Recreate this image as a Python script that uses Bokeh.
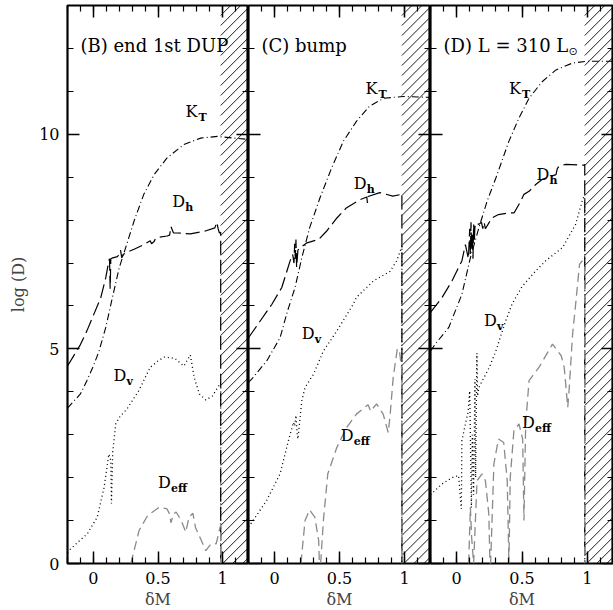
import numpy as np
from bokeh.plotting import figure
from bokeh.layouts import row
from bokeh.models import LinearAxis, FixedTicker, Range1d, CustomLabelingPolicy
from bokeh.core.properties import value
from bokeh.embed import file_html
from bokeh.resources import INLINE

# ---------------------------------------------------------------- data
panel_titles = ["(B) end 1st DUP", "(C) bump", "(D) L = 310 L"]
title_subscripts = ["", "", "\u2299"]

# inner edge of the convective envelope (hatched zone beyond it), in dM
envelope_edge = [0.985, 0.98, 0.98]

x_ticks = [0, 0.5, 1]
x_tick_labels = ["0", "0.5", "1"]
x_minor = [-0.2, -0.1, 0.0, 0.1, 0.2, 0.3, 0.4, 0.5, 0.6, 0.7, 0.8, 0.9, 1.0, 1.1, 1.2]
y_ticks = [0, 5, 10]
y_tick_labels = ["0", "5", "10"]
y_minor = [0, 1, 2, 3, 4, 5, 6, 7, 8, 9, 10, 11, 12, 13]

# (B) end of the first dredge-up
b_kt_x = [-0.2, -0.1, -0.05, 0.0, 0.044, 0.096, 0.147, 0.2, 0.25, 0.315, 0.39, 0.47,
          0.57, 0.70, 0.83, 0.96, 1.09, 1.2]
b_kt_y = [3.62, 3.95, 4.26, 4.6, 4.95, 5.5, 6.19, 6.89, 7.36, 7.98, 8.6, 9.06,
          9.45, 9.76, 9.91, 9.95, 9.91, 9.88]
b_dh_x = [-0.2, -0.15, -0.1, -0.05, 0.0, 0.057, 0.096, 0.12, 0.125, 0.13, 0.135, 0.15,
          0.186, 0.2, 0.21, 0.22, 0.23, 0.26, 0.315, 0.39, 0.44, 0.45, 0.47, 0.48, 0.5,
          0.57, 0.59, 0.6, 0.62, 0.65, 0.75, 0.86, 0.94, 0.955, 0.965, 0.975, 0.985, 0.985]
b_dh_y = [4.6, 4.85, 5.1, 5.42, 5.78, 6.19, 6.66, 7.05, 7.1, 6.4, 7.1, 7.12,
          7.15, 7.2, 7.3, 7.12, 7.2, 7.25, 7.32, 7.43, 7.52, 7.45, 7.5, 7.57, 7.6,
          7.63, 7.65, 7.85, 7.7, 7.7, 7.68, 7.74, 7.82, 7.95, 7.8, 7.7, 7.72, 0.0]
b_dv_x = [-0.2, -0.176, -0.1, -0.047, 0.03, 0.083, 0.12, 0.135, 0.14, 0.15, 0.173, 0.2,
          0.26, 0.35, 0.44, 0.5, 0.55, 0.63, 0.70, 0.75, 0.78, 0.82, 0.87, 0.92, 0.97,
          0.985, 0.985]
b_dv_y = [0.25, 0.34, 0.55, 0.69, 1.08, 1.77, 2.55, 2.4, 1.4, 2.6, 3.25, 3.4,
          3.6, 4.02, 4.57, 4.72, 4.81, 4.78, 4.6, 4.86, 4.33, 3.95, 3.81, 3.9, 4.14,
          4.2, 0.0]
b_de_x = [0.29, 0.354, 0.42, 0.51, 0.57, 0.59, 0.6, 0.62, 0.64, 0.68, 0.715, 0.74,
          0.77, 0.79, 0.83, 0.87, 0.91, 0.95, 0.98, 0.985, 0.985]
b_de_y = [0.0, 0.77, 1.12, 1.31, 1.27, 1.15, 0.95, 1.15, 1.2, 1.0, 0.73, 1.08,
          1.17, 0.84, 0.57, 0.3, 0.46, 0.46, 0.84, 0.9, 0.0]

# (C) the bump
c_kt_x = [-0.2, -0.174, -0.06, 0.043, 0.1, 0.158, 0.21, 0.27, 0.35, 0.44, 0.53, 0.63,
          0.73, 0.84, 0.99, 1.2]
c_kt_y = [4.22, 4.3, 4.72, 5.26, 5.88, 6.43, 7.12, 7.82, 8.52, 9.22, 9.84, 10.3,
          10.65, 10.84, 10.88, 10.86]
c_dh_x = [-0.2, -0.11, -0.02, 0.056, 0.12, 0.14, 0.15, 0.155, 0.16, 0.165, 0.17, 0.18,
          0.197, 0.25, 0.34, 0.4, 0.48, 0.555, 0.66, 0.71, 0.715, 0.72, 0.81, 0.91,
          0.977, 0.98, 0.98]
c_dh_y = [5.26, 5.65, 6.04, 6.43, 7.05, 7.2, 7.0, 7.45, 7.1, 7.55, 6.9, 7.3,
          7.36, 7.47, 7.55, 7.74, 8.05, 8.29, 8.48, 8.54, 8.4, 8.55, 8.64, 8.56,
          8.6, 8.62, 0.0]
c_dv_x = [-0.2, -0.174, -0.06, 0.043, 0.107, 0.146, 0.155, 0.165, 0.175, 0.18, 0.21,
          0.235, 0.3, 0.376, 0.48, 0.606, 0.63, 0.76, 0.89, 0.94, 0.977, 0.98, 0.98]
c_dv_y = [0.85, 0.96, 1.47, 2.09, 2.86, 3.29, 3.2, 3.45, 3.0, 2.9, 3.79,
          4.1, 4.41, 4.95, 5.42, 6.04, 6.2, 6.58, 6.81, 7.05, 7.36, 7.4, 0.0]
c_de_x = [0.205, 0.21, 0.235, 0.27, 0.31, 0.34, 0.345, 0.355, 0.376, 0.41, 0.48, 0.555,
          0.63, 0.695, 0.72, 0.74, 0.785, 0.836, 0.875, 0.89, 0.913, 0.944, 0.96,
          0.975, 0.98, 0.98]
c_de_y = [0.0, 0.22, 1.0, 1.25, 1.08, 0.53, 0.0, 0.0, 1.0, 2.09, 2.71, 3.17,
          3.48, 3.64, 3.7, 3.55, 3.72, 3.48, 3.05, 3.48, 4.33, 4.99, 4.99,
          4.6, 4.5, 0.0]

# (D) L = 310 Lsun
d_kt_x = [-0.2, -0.164, -0.06, 0.04, 0.105, 0.17, 0.233, 0.3, 0.4, 0.477, 0.554, 0.656,
          0.76, 0.887, 0.99, 1.2]
d_kt_y = [4.95, 5.11, 5.5, 6.27, 7.12, 7.82, 8.44, 8.98, 9.84, 10.38, 10.84, 11.23,
          11.5, 11.66, 11.7, 11.7]
d_dh_x = [-0.2, -0.113, -0.036, 0.04, 0.067, 0.09, 0.1, 0.105, 0.11, 0.115, 0.12, 0.125,
          0.13, 0.135, 0.14, 0.15, 0.17, 0.19, 0.2, 0.21, 0.22, 0.27, 0.32, 0.4, 0.44,
          0.49, 0.515, 0.554, 0.605, 0.656, 0.76, 0.77, 0.785, 0.836, 0.977, 0.98, 0.98]
d_dh_y = [5.85, 6.19, 6.58, 7.05, 7.43, 7.1, 7.8, 7.2, 7.95, 7.3, 7.7, 7.1,
          7.9, 7.5, 7.85, 7.94, 7.9, 7.95, 7.8, 7.95, 7.8, 8.05, 8.13, 8.17, 8.17,
          8.44, 8.6, 8.67, 8.83, 8.95, 9.06, 9.2, 9.26, 9.3, 9.28, 9.3, 0.0]
d_dv_x = [-0.2, -0.113, -0.036, 0.015, 0.036, 0.04, 0.067, 0.087, 0.1, 0.113, 0.12,
          0.13, 0.14, 0.145, 0.155, 0.16, 0.17, 0.25, 0.3, 0.375, 0.425, 0.5, 0.6,
          0.68, 0.81, 0.91, 0.96, 0.98, 0.98]
d_dv_y = [1.6, 1.85, 2.0, 2.05, 1.27, 2.86, 3.25, 3.52, 4.02, 1.3, 3.0,
          1.6, 4.3, 2.0, 4.9, 3.9, 4.1, 4.57, 4.95, 5.65, 6.05, 6.45, 6.8,
          7.05, 7.36, 7.9, 8.44, 8.6, 0.0]
d_de_x = [0.092, 0.105, 0.115, 0.13, 0.156, 0.195, 0.22, 0.246, 0.255, 0.26, 0.285,
          0.32, 0.36, 0.387, 0.4, 0.41, 0.438, 0.477, 0.505, 0.515, 0.528, 0.554,
          0.63, 0.733, 0.8, 0.823, 0.85, 0.86, 0.887, 0.913, 0.94, 0.96, 0.98, 0.98]
d_de_y = [0.0, 1.31, 0.6, 0.0, 1.93, 2.09, 1.93, 1.16, 0.0, 0.0, 2.32,
          2.9, 2.82, 1.93, 0.0, 2.0, 3.09, 3.25, 2.9, 1.0, 3.25, 4.26,
          4.57, 5.11, 4.84, 4.57, 3.64, 4.02, 5.34, 6.12, 6.97, 7.05, 6.9, 0.0]

curves = [
    dict(kt=(b_kt_x, b_kt_y), dh=(b_dh_x, b_dh_y), dv=(b_dv_x, b_dv_y), de=(b_de_x, b_de_y)),
    dict(kt=(c_kt_x, c_kt_y), dh=(c_dh_x, c_dh_y), dv=(c_dv_x, c_dv_y), de=(c_de_x, c_de_y)),
    dict(kt=(d_kt_x, d_kt_y), dh=(d_dh_x, d_dh_y), dv=(d_dv_x, d_dv_y), de=(d_de_x, d_de_y)),
]

curve_names = {"kt": ("K", "T"), "dh": ("D", "h"), "dv": ("D", "v"), "de": ("D", "eff")}

# ---------------------------------------------------------------- layout / style
FONT = "DejaVu Serif"
FRAME_W = [181, 182, 183]
FRAME_H = 558
LEFT_BORDER = 67
X_LO, X_HI = -0.2, 1.2
Y_LO, Y_HI = 0.0, 13.0
HATCH_GAP_PX = 10.0

# where each curve label sits (data coordinates, left edge of the letter)
label_pos = [
    dict(kt=(0.713, 10.53), dh=(0.61, 8.44), dv=(0.155, 4.37), de=(0.5, 1.88)),
    dict(kt=(0.70, 11.07), dh=(0.61, 8.86), dv=(0.21, 5.37), de=(0.51, 2.98)),
    dict(kt=(0.40, 11.07), dh=(0.61, 9.07), dv=(0.21, 5.65), de=(0.50, 3.28)),
]
title_pos = (-0.1, 12.07)

line_styles = {
    "kt": dict(line_color="black", line_dash="7 3 1 3", line_width=1.1),
    "dh": dict(line_color="black", line_dash="14 5", line_width=1.2),
    "dv": dict(line_color="black", line_dash="1 3", line_width=1.3),
    "de": dict(line_color="#8a8a8a", line_dash="9 5", line_width=1.3),
}

# tick labels suppressed on the unlabeled frame sides
no_labels = CustomLabelingPolicy(code="""
    const all = [...indices]
    for (const i of all) indices.unset(i)
    return indices
""")


def hatch_segments(edge, frame_w):
    """45-degree hatch lines filling edge <= x <= X_HI, clipped to the frame."""
    px_x = frame_w / (X_HI - X_LO)
    px_y = FRAME_H / (Y_HI - Y_LO)
    slope = px_x / px_y                      # data dy/dx for a 45-degree line on screen
    run = (Y_HI - Y_LO) / slope
    step = HATCH_GAP_PX / px_x
    x0 = np.arange(edge - run, X_HI, step)
    xa = np.maximum(x0, edge)
    ya = Y_LO + (xa - x0) * slope
    xb = np.minimum(x0 + run, X_HI)
    yb = Y_LO + (xb - x0) * slope
    keep = xb > xa
    return xa[keep], ya[keep], xb[keep], yb[keep]


def style_axis(ax, labels, ticks, minor, overrides):
    ax.ticker = FixedTicker(ticks=ticks, minor_ticks=minor)
    ax.axis_line_color = None
    ax.major_tick_in = 12
    ax.major_tick_out = 0
    ax.minor_tick_in = 6
    ax.minor_tick_out = 0
    ax.major_tick_line_width = 1.5
    ax.minor_tick_line_width = 1.2
    ax.major_tick_line_color = "black"
    ax.minor_tick_line_color = "black"
    if labels:
        ax.major_label_overrides = overrides
        ax.major_label_text_font = FONT
        ax.major_label_text_font_size = "16px"
        ax.major_label_text_color = "black"
        ax.major_label_standoff = 8
    else:
        ax.major_label_policy = no_labels
        ax.major_label_text_font_size = "0px"
        ax.major_label_standoff = 0
        ax.axis_label = None


panels = []
x_over = dict(zip(x_ticks, x_tick_labels))
y_over = dict(zip(y_ticks, y_tick_labels))

for i in range(3):
    p = figure(frame_width=FRAME_W[i], frame_height=FRAME_H,
               x_range=Range1d(X_LO, X_HI), y_range=Range1d(Y_LO, Y_HI),
               x_axis_location=None, y_axis_location=None,
               output_backend="svg", toolbar_location=None,
               min_border_left=LEFT_BORDER if i == 0 else 0,
               min_border_right=0, min_border_top=5, min_border_bottom=47)
    p.grid.visible = False
    p.outline_line_color = "black"
    p.outline_line_width = 2.2
    p.background_fill_color = "white"
    p.border_fill_color = "white"

    bottom = LinearAxis()
    style_axis(bottom, True, x_ticks, x_minor, x_over)
    bottom.axis_label = "\u03b4M"
    bottom.axis_label_text_font = FONT
    bottom.axis_label_text_font_size = "16px"
    bottom.axis_label_text_font_style = "normal"
    bottom.axis_label_standoff = 3
    p.add_layout(bottom, "below")

    top = LinearAxis()
    style_axis(top, False, x_ticks, x_minor, x_over)
    p.add_layout(top, "above")

    left = LinearAxis()
    style_axis(left, i == 0, y_ticks, y_minor, y_over)
    if i == 0:
        left.axis_label = "log (D)"
        left.axis_label_text_font = FONT
        left.axis_label_text_font_size = "16px"
        left.axis_label_text_font_style = "normal"
        left.axis_label_standoff = 8
    p.add_layout(left, "left")

    right = LinearAxis()
    style_axis(right, False, y_ticks, y_minor, y_over)
    p.add_layout(right, "right")

    # hatched convective envelope
    xa, ya, xb, yb = hatch_segments(envelope_edge[i], FRAME_W[i])
    p.segment(x0=xa, y0=ya, x1=xb, y1=yb, line_color="black", line_width=0.9)

    for key in ["kt", "dh", "dv", "de"]:
        xs, ys = curves[i][key]
        p.line(xs, ys, **line_styles[key])

    # curve labels with subscripts
    for key, (lx, ly) in label_pos[i].items():
        main, sub = curve_names[key]
        p.text(x=[lx], y=[ly], text=[main], text_font=value(FONT), text_font_size="16px",
               text_baseline="middle", text_align="left", text_color="black")
        p.text(x=[lx], y=[ly], text=[sub], text_font=value(FONT), text_font_size="11px",
               text_font_style="bold", text_baseline="middle", text_align="left",
               text_color="black", x_offset=13, y_offset=6)

    # panel title
    p.text(x=[title_pos[0]], y=[title_pos[1]], text=[panel_titles[i]], text_font=value(FONT),
           text_font_size="18px", text_baseline="middle", text_align="left", text_color="black")
    if title_subscripts[i]:
        p.text(x=[title_pos[0]], y=[title_pos[1]], text=[title_subscripts[i]],
               text_font=value("DejaVu Sans"), text_font_size="11px",
               text_baseline="middle", text_align="left", text_color="black",
               x_offset=125, y_offset=6)
    panels.append(p)

layout = row(*panels)
open("out.html", "w").write(file_html(layout, INLINE))
